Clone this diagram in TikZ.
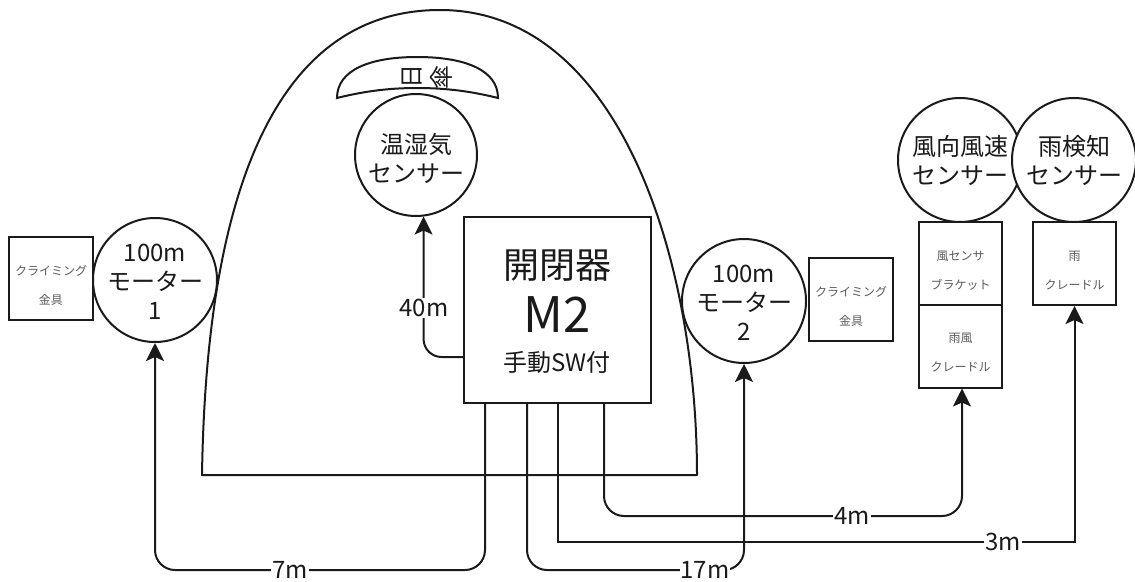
\documentclass[tikz,border=0pt]{standalone}
\usepackage{fontspec}
\setmainfont{Noto Sans CJK JP}
\usetikzlibrary{arrows.meta}
\definecolor{ink}{HTML}{1A1A1A}
\definecolor{softink}{HTML}{5A5A5A}
\tikzset{
  x=1pt,y=-1pt,
  shapeline/.style={draw=ink,line width=2pt,fill=white},
  roundbox/.style={shapeline,circle,minimum size=#1,inner sep=0pt},
  roundbox/.default=124pt,
  squarebox/.style={shapeline,rectangle,inner sep=0pt,minimum width=#1,minimum height=83pt},
  bigtext/.style={text=ink,align=center,inner sep=0pt,font=\fontsize{24}{29}\selectfont},
  smalltext/.style={text=softink,align=center,inner sep=0pt,yshift=-7pt,font=\fontsize{12}{29}\selectfont},
  wire/.style={draw=ink,line width=2pt,-{Stealth[length=18pt,width=18pt,inset=4pt]}},
  lengthlabel/.style={fill=white,text=ink,inner sep=1pt,font=\fontsize{24}{24}\selectfont},
}
\begin{document}
\begin{tikzpicture}
\useasboundingbox (0,0) rectangle (1135,581);
% dome
\draw[draw=ink,line width=2pt,line join=round] (202,475) .. controls (205,280) and (240,10) .. (440,10)
  .. controls (620,10) and (697,260) .. (697,475) -- cycle;
% sun shade
\draw[shapeline] (337,98) .. controls (337,70) and (370,57) .. (417,57)
  .. controls (465,57) and (498,70) .. (498,98)
  .. controls (470,91) and (445,88) .. (417,88)
  .. controls (390,88) and (365,91) .. (337,98) -- cycle;
\node[rotate=90,text=ink,inner sep=0pt,font=\fontsize{24}{24}\selectfont] (shadeA) at (412,76) {日};
\node[rotate=90,text=ink,inner sep=0pt,font=\fontsize{24}{24}\selectfont] (shadeB) at (441,77) {傘};
% devices
\node[roundbox=122pt,label={[bigtext,yshift=-3pt]center:温湿気\\センサー}] (temp) at (416,155) {};
\node[roundbox,label={[bigtext,yshift=-2pt]center:100m\\モーター\\1}] (motorA) at (155,280) {};
\node[roundbox,label={[bigtext,yshift=-2pt]center:100m\\モーター\\2}] (motorB) at (744,301) {};
\node[roundbox,label={[bigtext]center:風向風速\\センサー}] (wind) at (960,160) {};
\node[roundbox,label={[bigtext]center:雨検知\\センサー}] (rain) at (1074,160) {};
\node[squarebox=84pt,label={[smalltext]center:クライミング\\金具}] (clampA) at (51,278.5) {};
\node[squarebox=84pt,label={[smalltext]center:クライミング\\金具}] (clampB) at (851,299.5) {};
\node[squarebox=83pt,label={[smalltext]center:風センサ\\ブラケット}] (bracket) at (960.5,263.5) {};
\node[squarebox=83pt,label={[smalltext]center:雨風\\クレードル}] (cradleA) at (960.5,346) {};
\node[squarebox=83pt,label={[smalltext]center:雨\\クレードル}] (cradleB) at (1074.5,263.5) {};
\node[shapeline,rectangle,minimum width=187pt,minimum height=186pt,inner sep=0pt] (ctrl) at (557.5,310) {};
\node[text=ink,inner sep=0pt,font=\fontsize{36}{36}\selectfont] (ctrlA) at (557,266) {開閉器};
\node[text=ink,inner sep=0pt,font=\fontsize{49}{49}\selectfont] (ctrlB) at (557,315) {M2};
\node[text=ink,inner sep=0pt,font=\fontsize{24}{24}\selectfont] (ctrlC) at (557,362) {手動SW付};
% connectors
\draw[wire,rounded corners=18pt] ([yshift=-47pt]ctrl.west) -| (temp.-83);
\draw[wire,rounded corners=20pt] ([xshift=-72.5pt]ctrl.south) |- (290,570) -| (motorA.south);
\draw[wire,rounded corners=20pt] ([xshift=-30.5pt]ctrl.south) |- (705,570) -| (motorB.south);
\draw[wire] ([xshift=0.5pt]ctrl.south) |- (1003,541.5) -| (cradleB.south);
\draw[wire,rounded corners=20pt] ([xshift=46.5pt]ctrl.south) |- (852,516) -| ([xshift=1.5pt]cradleA.south);
% length labels
\node[lengthlabel] (lenD) at (424,308) {40m};
\node[lengthlabel] (lenA) at (290,570) {7m};
\node[lengthlabel] (lenB) at (705,570) {17m};
\node[lengthlabel] (lenC) at (1003,542) {3m};
\node[lengthlabel] (lenE) at (852,516) {4m};
\end{tikzpicture}
\end{document}
